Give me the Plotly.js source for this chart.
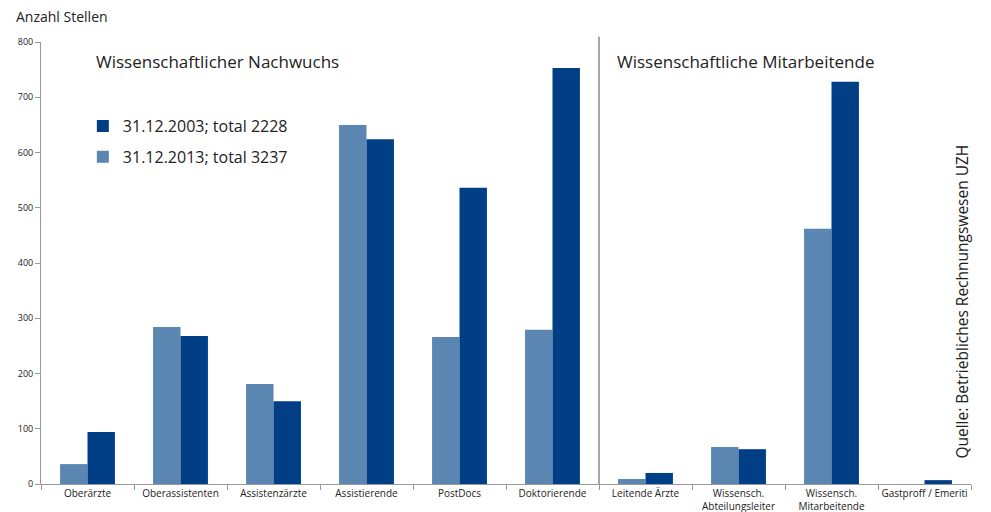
<!DOCTYPE html>
<html>
<head>
<meta charset="utf-8">
<script src="https://cdn.plot.ly/plotly-3.0.1.min.js"></script>
<style>html,body{margin:0;padding:0;background:#fff;}#chart{width:991px;height:512px;}</style>
</head>
<body>
<div id="chart"></div>
<script>
const categories = ["Oberärzte", "Oberassistenten", "Assistenzärzte", "Assistierende", "PostDocs", "Doktorierende", "Leitende Ärzte", "Wissensch.<br>Abteilungsleiter", "Wissensch.<br>Mitarbeitende", "Gastproff / Emeriti"];
const values2013 = [36, 284, 181, 650, 266, 279, 9, 67, 462, 0];
const values2003 = [94, 268, 150, 624, 536, 753, 20, 63, 728, 7];
const seriesNames = ["31.12.2013; total 3237", "31.12.2003; total 2228"];
const yTicks = [0, 100, 200, 300, 400, 500, 600, 700, 800];

const FONT = "Open Sans, Noto Sans, sans-serif";

const traces = [
  {type: "bar", x: categories, y: values2013, name: seriesNames[0], legend: "legend2", marker: {color: "#5b86b2"}},
  {type: "bar", x: categories, y: values2003, name: seriesNames[1], legend: "legend", marker: {color: "#003f85"}}
];

const legendBase = {x: 0.045, xanchor: "left", yanchor: "middle",
  font: {size: 16, family: FONT, color: "#222"}, itemwidth: 30, bgcolor: "rgba(0,0,0,0)"};

const layout = {
  width: 991, height: 512,
  margin: {l: 41, r: 20, t: 42, b: 28},
  paper_bgcolor: "#fff", plot_bgcolor: "#fff",
  font: {family: FONT, color: "#222"},
  barmode: "group", bargap: 0.41, bargroupgap: 0,
  showlegend: true,
  legend: Object.assign({}, legendBase, {y: 0.81}),
  legend2: Object.assign({}, legendBase, {y: 0.74}),
  xaxis: {type: "category", showline: true, linecolor: "#999", linewidth: 1, tickangle: 0,
          ticks: "outside", tickson: "boundaries", ticklen: 5, tickcolor: "#999",
          tickfont: {size: 10, family: FONT, color: "#222"}, showgrid: false, zeroline: false, fixedrange: true},
  yaxis: {range: [0, 800], tickvals: yTicks, showline: true, linecolor: "#999", linewidth: 1,
          ticks: "outside", ticklen: 5, tickcolor: "#999", showgrid: false, zeroline: false,
          tickfont: {size: 9, family: FONT, color: "#222"}},
  shapes: [
    {type: "line", xref: "x", yref: "paper", x0: 5.5, x1: 5.5, y0: 0, y1: 1.012, line: {color: "#888", width: 1.5}}
  ],
  annotations: [
    {text: "Anzahl Stellen", xref: "paper", yref: "paper", x: -0.029, y: 1.032, xanchor: "left", yanchor: "bottom",
     showarrow: false, font: {size: 14, family: FONT, color: "#222"}},
    {text: "Wissenschaftlicher Nachwuchs", xref: "paper", yref: "paper", x: 0.057, y: 0.957, xanchor: "left", yanchor: "middle",
     showarrow: false, font: {size: 17, family: FONT, color: "#222"}},
    {text: "Wissenschaftliche Mitarbeitende", xref: "paper", yref: "paper", x: 0.617, y: 0.957, xanchor: "left", yanchor: "middle",
     showarrow: false, font: {size: 17, family: FONT, color: "#222"}},
    {text: "Quelle: Betriebliches Rechnungswesen UZH", xref: "paper", yref: "paper", x: 0.990, y: 0.412, xanchor: "center", yanchor: "middle",
     textangle: -90, showarrow: false, font: {size: 15.5, family: FONT, color: "#222"}}
  ]
};

Plotly.newPlot("chart", traces, layout, {displayModeBar: false, staticPlot: true});
</script>
</body>
</html>
